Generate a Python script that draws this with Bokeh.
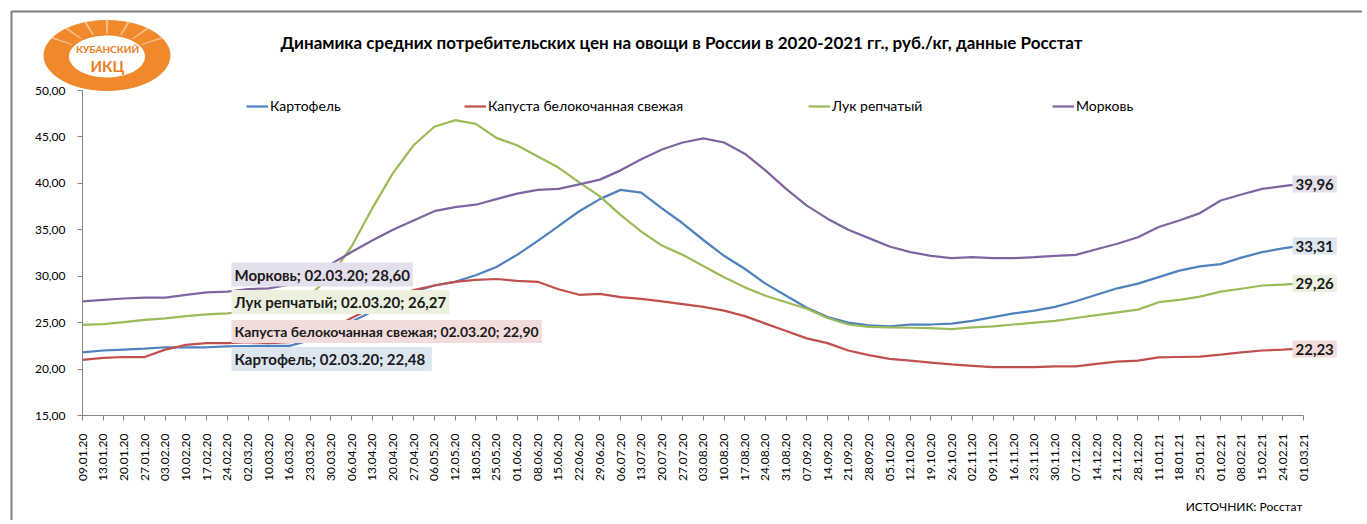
import numpy as np
from bokeh.plotting import figure
from bokeh.models import (FixedTicker, Legend, LegendItem, Label, PolyAnnotation, Range1d)
from bokeh.embed import file_html
from bokeh.resources import INLINE

dates = ["09.01.20", "13.01.20", "20.01.20", "27.01.20", "03.02.20", "10.02.20", "17.02.20", "24.02.20",
         "02.03.20", "10.03.20", "16.03.20", "23.03.20", "30.03.20", "06.04.20", "13.04.20", "20.04.20",
         "27.04.20", "06.05.20", "12.05.20", "18.05.20", "25.05.20", "01.06.20", "08.06.20", "15.06.20",
         "22.06.20", "29.06.20", "06.07.20", "13.07.20", "20.07.20", "27.07.20", "03.08.20", "10.08.20",
         "17.08.20", "24.08.20", "31.08.20", "07.09.20", "14.09.20", "21.09.20", "28.09.20", "05.10.20",
         "12.10.20", "19.10.20", "26.10.20", "02.11.20", "09.11.20", "16.11.20", "23.11.20", "30.11.20",
         "07.12.20", "14.12.20", "21.12.20", "28.12.20", "11.01.21", "18.01.21", "25.01.21", "01.02.21",
         "08.02.21", "15.02.21", "24.02.21", "01.03.21"]

potato = [21.8, 22.0, 22.1, 22.2, 22.35, 22.35, 22.35, 22.45, 22.48, 22.5, 22.5, 23.1, 24.0, 25.1, 26.2,
          27.3, 28.3, 29.0, 29.4, 30.1, 31.0, 32.3, 33.8, 35.4, 37.0, 38.3, 39.3, 39.0, 37.3, 35.7, 33.9,
          32.2, 30.8, 29.2, 27.9, 26.6, 25.6, 25.0, 24.7, 24.6, 24.8, 24.8, 24.9, 25.2, 25.6, 26.0, 26.3,
          26.7, 27.3, 28.0, 28.7, 29.2, 29.9, 30.6, 31.05, 31.3, 32.0, 32.6, 33.0, 33.31]
cabbage = [21.0, 21.2, 21.3, 21.3, 22.1, 22.6, 22.8, 22.8, 22.90, 22.8, 22.9, 23.2, 24.3, 25.5, 26.6,
           27.6, 28.5, 29.0, 29.4, 29.6, 29.7, 29.5, 29.4, 28.6, 28.0, 28.1, 27.75, 27.55, 27.3, 27.0, 26.7,
           26.3, 25.7, 24.9, 24.1, 23.3, 22.8, 22.0, 21.5, 21.1, 20.9, 20.7, 20.5, 20.35, 20.2, 20.2, 20.2,
           20.3, 20.3, 20.55, 20.8, 20.9, 21.25, 21.3, 21.35, 21.55, 21.8, 22.0, 22.1, 22.23]
onion = [24.77, 24.85, 25.05, 25.3, 25.45, 25.7, 25.9, 26.0, 26.27, 26.5, 26.9, 28.0, 30.0, 33.2, 37.3,
         41.1, 44.1, 46.1, 46.8, 46.4, 44.9, 44.1, 42.9, 41.7, 40.1, 38.6, 36.6, 34.8, 33.3, 32.3, 31.1,
         29.9, 28.8, 27.9, 27.2, 26.5, 25.5, 24.8, 24.55, 24.5, 24.45, 24.4, 24.3, 24.5, 24.6, 24.8, 25.0,
         25.2, 25.5, 25.8, 26.1, 26.4, 27.2, 27.45, 27.8, 28.35, 28.65, 29.0, 29.1, 29.26]
carrot = [27.3, 27.45, 27.6, 27.7, 27.7, 28.0, 28.25, 28.35, 28.60, 28.7, 29.1, 30.0, 31.3, 32.6, 33.85,
          35.0, 36.0, 37.0, 37.45, 37.7, 38.3, 38.9, 39.3, 39.4, 39.9, 40.4, 41.4, 42.6, 43.65, 44.4, 44.85,
          44.4, 43.2, 41.4, 39.4, 37.6, 36.2, 35.0, 34.1, 33.2, 32.6, 32.2, 31.95, 32.05, 31.95, 31.95, 32.05,
          32.2, 32.3, 32.9, 33.5, 34.2, 35.3, 36.0, 36.8, 38.15, 38.8, 39.4, 39.7, 39.96]

series_names = ["Картофель", "Капуста белокочанная свежая", "Лук репчатый", "Морковь"]
series_values = [potato, cabbage, onion, carrot]
series_colors = ["#4F81BD", "#C0504D", "#9BBB59", "#8064A2"]
label_fills = ["#DCE6F1", "#F2DCDB", "#EBF1DE", "#E4DFEC"]

y_ticks = [15, 20, 25, 30, 35, 40, 45, 50]
y_tick_labels = ["15,00", "20,00", "25,00", "30,00", "35,00", "40,00", "45,00", "50,00"]

title_text = "Динамика средних потребительских цен на овощи в России в 2020-2021 гг., руб./кг, данные Росстат"
source_text = "ИСТОЧНИК: Росстат"
logo_lines = ["КУБАНСКИЙ", "ИКЦ"]

FONT = "Lato"
W, H = 1362, 520
# page geometry of the axes; the frame covers the whole canvas, axes sit at fixed locations
AX_L, AX_R, AX_T, AX_B = 82, 1303, 90, 415

n = len(dates)
px_per_x = (AX_R - AX_L) / (n - 1)
px_per_y = (AX_B - AX_T) / (y_ticks[-1] - y_ticks[0])
x_start = 0 - AX_L / px_per_x
x_end = (n - 1) + (W - AX_R) / px_per_x
y_start = y_ticks[0] - (H - AX_B) / px_per_y
y_end = y_ticks[0] + AX_B / px_per_y


def sx(px):
    return px


def sy(py):
    return H - py


def fmt(v):
    return f"{v:.2f}".replace(".", ",")


x = list(range(n))

p = figure(width=W, height=H, output_backend="svg", toolbar_location=None, title=None,
           x_range=Range1d(x_start, x_end), y_range=Range1d(y_start, y_end),
           min_border_left=0, min_border_right=0, min_border_top=0, min_border_bottom=0)
p.outline_line_color = None
p.xgrid.visible = False
p.ygrid.visible = False
p.background_fill_color = "white"
p.border_fill_color = "white"

p.xaxis.ticker = FixedTicker(ticks=x, minor_ticks=[])
p.xaxis.major_label_overrides = {i: d for i, d in enumerate(dates)}
p.xaxis.major_label_orientation = np.pi / 2
p.xaxis.bounds = (0, n - 1)
p.xaxis.fixed_location = y_ticks[0]
p.yaxis.ticker = FixedTicker(ticks=y_ticks, minor_ticks=[])
p.yaxis.major_label_overrides = {t: l for t, l in zip(y_ticks, y_tick_labels)}
p.yaxis.bounds = (y_ticks[0], y_ticks[-1])
p.yaxis.fixed_location = 0
for ax in (p.xaxis[0], p.yaxis[0]):
    ax.axis_line_color = "#868686"
    ax.major_tick_line_color = "#868686"
    ax.major_tick_in = 0
    ax.major_tick_out = 5
    ax.minor_tick_line_color = None
    ax.major_label_text_font = FONT
    ax.major_label_text_font_size = "12px"
    ax.major_label_text_color = "#000000"
p.xaxis.major_label_standoff = 13
p.yaxis.major_label_standoff = 12

renderers = []
for name, vals, col in zip(series_names, series_values, series_colors):
    r = p.line(x, vals, line_color=col, line_width=2.25)
    renderers.append(r)

legend_x = [246, 464, 808, 1052]
for name, r, lx in zip(series_names, renderers, legend_x):
    leg = Legend(items=[LegendItem(label=name, renderers=[r])], location=(sx(lx), sy(106) - 8),
                 orientation="horizontal", padding=0, margin=0, spacing=0,
                 glyph_width=22, glyph_height=16, label_height=16, label_standoff=2,
                 label_text_font=FONT, label_text_font_size="14px", label_text_color="#000000",
                 border_line_color=None, background_fill_alpha=0)
    p.add_layout(leg, "center")

# data labels at 02.03.20
ref_i = 8
left_boxes = [(3, 274, "15px"), (2, 301.5, "15px"), (1, 331, "14px"), (0, 358.5, "15px")]
for si, cy, fs in left_boxes:
    sep = ";  " if si == 0 else "; "
    txt = f"{series_names[si]}; {dates[ref_i]}{sep}{fmt(series_values[si][ref_i])}"
    p.add_layout(Label(x=sx(231), y=sy(cy), x_units="screen", y_units="screen", text=txt,
                       text_font=FONT, text_font_size=fs, text_font_style="bold",
                       text_color="#1a1a1a", text_baseline="middle", text_align="left",
                       background_fill_color=label_fills[si], padding=3))

end_boxes = [(3, 183.5), (0, 245.5), (2, 283), (1, 348.5)]
for si, cy in end_boxes:
    p.add_layout(Label(x=sx(1292), y=sy(cy), x_units="screen", y_units="screen",
                       text=fmt(series_values[si][-1]),
                       text_font=FONT, text_font_size="15px", text_font_style="bold",
                       text_color="#1a1a1a", text_baseline="middle", text_align="left",
                       background_fill_color=label_fills[si], padding=3))

# title and source
p.add_layout(Label(x=sx(681), y=sy(42), x_units="screen", y_units="screen", text=title_text,
                   text_font=FONT, text_font_size="17px", text_font_style="bold",
                   text_color="#000000", text_align="center", text_baseline="middle"))
p.add_layout(Label(x=sx(1302), y=sy(506), x_units="screen", y_units="screen", text=source_text,
                   text_font=FONT, text_font_size="12px", text_color="#000000",
                   text_align="right", text_baseline="middle"))

# chart border (left and top edges)
bx = [sx(11), sx(11), sx(W + 5), sx(11)]
by = [sy(H + 5), sy(11), sy(11), sy(11)]
p.add_layout(PolyAnnotation(xs=bx, ys=by, xs_units="screen", ys_units="screen",
                            fill_alpha=0, line_color="#7f7f7f", line_alpha=1, line_width=2))

# logo: orange ellipse with white centre
t = np.linspace(0, 2 * np.pi, 90)
ox = list(sx(106.5) + 63 * np.cos(t))
oy = list(sy(55) + 35 * np.sin(t))
p.add_layout(PolyAnnotation(xs=ox, ys=oy, xs_units="screen", ys_units="screen",
                            fill_color="#F0892B", fill_alpha=1, line_color="#F0892B", line_alpha=1,
                            line_width=1))
for k in range(-3, 4):
    # light gaps between the "ears" of the logo
    ang = np.linspace(np.pi / 2 + 0.35 * k - 0.02, np.pi / 2 + 0.35 * k + 0.02, 2)
    gx = [sx(106.5) + 40 * np.cos(a) for a in ang] + [sx(106.5) + 64 * np.cos(a) for a in ang[::-1]]
    gy = [sy(55) + 22 * np.sin(a) for a in ang] + [sy(55) + 36 * np.sin(a) for a in ang[::-1]]
    p.add_layout(PolyAnnotation(xs=gx, ys=gy, xs_units="screen", ys_units="screen",
                                fill_color="#F8C08A", fill_alpha=1, line_alpha=0))
ix = list(sx(106.5) + 38 * np.cos(t))
iy = list(sy(56) + 21 * np.sin(t))
p.add_layout(PolyAnnotation(xs=ix, ys=iy, xs_units="screen", ys_units="screen",
                            fill_color="white", fill_alpha=1, line_alpha=0))
p.add_layout(Label(x=sx(107), y=sy(48), x_units="screen", y_units="screen", text=logo_lines[0],
                   text_font=FONT, text_font_size="10px", text_font_style="bold",
                   text_color="#EC7D22", text_align="center", text_baseline="middle"))
p.add_layout(Label(x=sx(107), y=sy(65), x_units="screen", y_units="screen", text=logo_lines[1],
                   text_font=FONT, text_font_size="15px", text_font_style="bold",
                   text_color="#EC7D22", text_align="center", text_baseline="middle"))

open("out.html", "w").write(file_html(p, INLINE))
